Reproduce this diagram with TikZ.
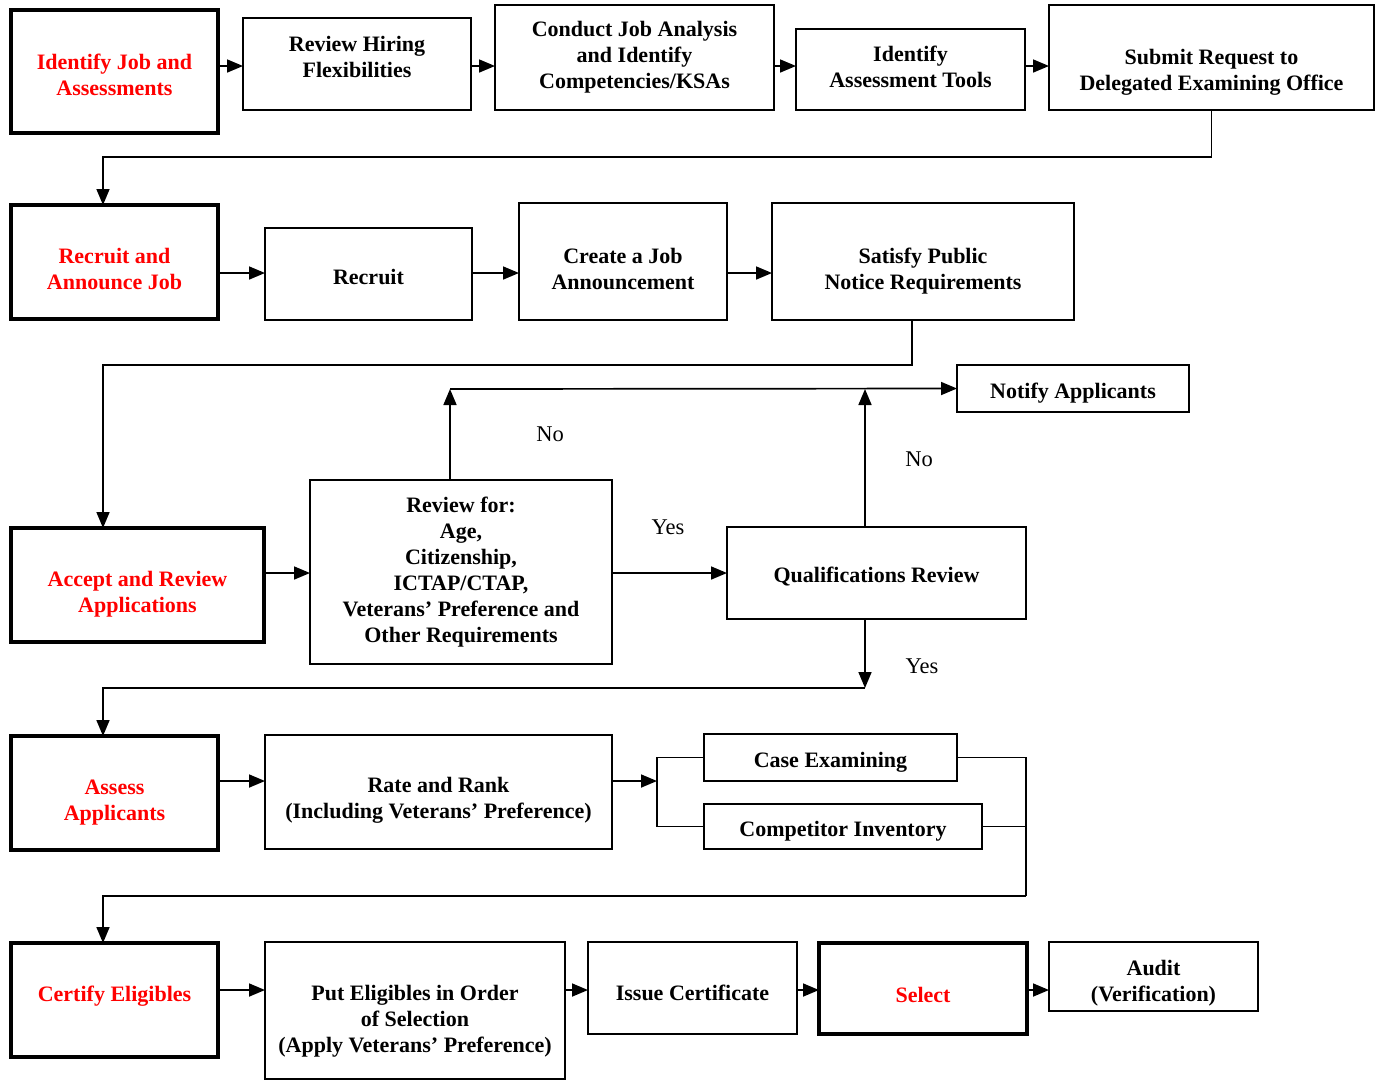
\documentclass[tikz,border=0pt]{standalone}
\usepackage{fontspec}
\setmainfont{Liberation Serif}
\usetikzlibrary{arrows.meta}

\tikzset{
	kasten/.style={draw, line width=1.7pt, align=center, inner sep=0pt,
	outer sep=0pt, font=\bfseries\fontsize{22}{26}\selectfont},
	haupt/.style={kasten, line width=3.8pt, text=red},
	pfeil/.style={line width=1.7pt, -{Triangle[length=16pt,width=13pt]}},
	linie/.style={line width=1.7pt},
	antwort/.style={font=\fontsize{22.5}{26}\selectfont}
}

\begin{document}
\begin{tikzpicture}[x=1pt, y=-1pt]
	\useasboundingbox (0,0) rectangle (1380,1080);

	% Hilfszeilen fuer die Pfeile
	\coordinate (r1) at (0,66);
	\coordinate (r2) at (0,273);
	\coordinate (r3) at (0,573);
	\coordinate (r4) at (0,781);
	\coordinate (r5) at (0,990);

	% Zeile 1
	\node[haupt, minimum width=207pt, minimum height=123pt] (ident) at (114.5,71.5) {Identify Job and\\Assessments\\[-32pt]};
	\node[kasten, minimum width=228pt, minimum height=92pt] (flex) at (357,64) {Review Hiring\\Flexibilities\\[-12pt]};
	\node[kasten, minimum width=279pt, minimum height=105pt] (analyse) at (634.5,57.5) {Conduct Job Analysis\\and Identify\\Competencies/KSAs\\[-20pt]};
	\node[kasten, minimum width=229pt, minimum height=81pt] (tools) at (910.5,69.5) {Identify\\Assessment Tools\\[-20pt]};
	\node[kasten, minimum width=325pt, minimum height=105pt] (antrag) at (1211.5,57.5) {Submit Request to\\Delegated Examining Office\\[-50pt]};
	\foreach \a/\b in {ident/flex, flex/analyse, analyse/tools, tools/antrag}
		\draw[pfeil] (\a.east |- r1) -- (\b.west |- r1);

	% Zeile 2
	\node[haupt, minimum width=207pt, minimum height=114pt] (werben) at (114.5,262) {Recruit and\\Announce Job\\[-40pt]};
	\node[kasten, minimum width=207pt, minimum height=92pt] (recruit) at (368.5,274) {Recruit\\[-32pt]};
	\node[kasten, minimum width=208pt, minimum height=117pt] (ausschr) at (623,261.5) {Create a Job\\Announcement\\[-40pt]};
	\node[kasten, minimum width=302pt, minimum height=117pt] (public) at (923,261.5) {Satisfy Public\\Notice Requirements\\[-40pt]};
	\foreach \a/\b in {werben/recruit, recruit/ausschr, ausschr/public}
		\draw[pfeil] (\a.east |- r2) -- (\b.west |- r2);

	\coordinate (k1) at (103,157);
	\draw[pfeil] (antrag.south) |- (k1) -- (k1 |- werben.north);

	% Zeile 3
	\node[haupt, minimum width=253pt, minimum height=114pt] (annahme) at (137.5,585) {Accept and Review\\Applications\\[-40pt]};
	\node[kasten, minimum width=302pt, minimum height=184pt] (pruefung) at (461,572) {Review for:\\Age,\\Citizenship,\\ICTAP/CTAP,\\Veterans’ Preference and\\Other Requirements\\[-22pt]};
	\node[kasten, minimum width=299pt, minimum height=92pt] (quali) at (876.5,573) {Qualifications Review\\[-30pt]};
	\node[kasten, minimum width=232pt, minimum height=47pt] (notify) at (1073,388.5) {Notify Applicants\\[-30pt]};
	\draw[pfeil] (annahme.east |- r3) -- (pruefung.west |- r3);
	\draw[pfeil] (pruefung.east |- r3) -- (quali.west |- r3);

	\coordinate (k2) at (912,365);
	\coordinate (k3) at (103,365);
	\draw[pfeil] (k2 |- public.south) -- (k2) -- (k3) -- (k3 |- annahme.north);

	\coordinate (k4) at (450,389);
	\coordinate (k5) at (865,389);
	\draw[pfeil] (k4 |- pruefung.north) -- (k4);
	\draw[pfeil] (k4) -- (notify.west);
	\draw[pfeil] (k5 |- quali.north) -- (k5);

	\node[antwort] (nein1) at (550,434) {No};
	\node[antwort] (nein2) at (919,459) {No};
	\node[antwort] (ja1) at (668,527) {Yes};
	\node[antwort] (ja2) at (922,666) {Yes};

	% Zeile 4
	\node[haupt, minimum width=207pt, minimum height=114pt] (bewert) at (114.5,793) {Assess\\Applicants\\[-40pt]};
	\node[kasten, minimum width=347pt, minimum height=114pt] (rang) at (438.5,792) {Rate and Rank\\(Including Veterans’ Preference)\\[-38pt]};
	\node[kasten, minimum width=253pt, minimum height=47pt] (case) at (830.5,757.5) {Case Examining\\[-30pt]};
	\node[kasten, minimum width=278pt, minimum height=45pt] (inventar) at (843,826.5) {Competitor Inventory\\[-30pt]};
	\draw[pfeil] (bewert.east |- r4) -- (rang.west |- r4);

	\coordinate (k6) at (865,688);
	\coordinate (k7) at (103,688);
	\draw[pfeil] (k6 |- quali.south) -- (k6);
	\draw[pfeil] (k6) -- (k7) -- (k7 |- bewert.north);

	\coordinate (k8) at (657,781);
	\draw[pfeil] (rang.east |- r4) -- (k8);
	\draw[linie] (case.west) -| (k8) |- (inventar.west);

	% Zeile 5
	\node[haupt, minimum width=207pt, minimum height=114pt] (zert) at (114.5,1000) {Certify Eligibles\\[-14pt]};
	\node[kasten, minimum width=300pt, minimum height=137pt] (ordnung) at (415,1010.5) {Put Eligibles in Order\\of Selection\\(Apply Veterans’ Preference)\\[-42pt]};
	\node[kasten, minimum width=209pt, minimum height=92pt] (zertifikat) at (692.5,988) {Issue Certificate\\[-36pt]};
	\node[haupt, minimum width=208pt, minimum height=91pt] (auswahl) at (923,988.5) {Select\\[-38pt]};
	\node[kasten, minimum width=209pt, minimum height=69pt] (audit) at (1153.5,976.5) {Audit\\(Verification)\\[-34pt]};
	\foreach \a/\b in {zert/ordnung, ordnung/zertifikat, zertifikat/auswahl, auswahl/audit}
		\draw[pfeil] (\a.east |- r5) -- (\b.west |- r5);

	\coordinate (k9) at (1026,896);
	\coordinate (k10) at (103,896);
	\draw[linie] (case.east) -| (k9);
	\draw[linie] (inventar.east) -- (inventar.east -| k9);
	\draw[pfeil] (k9) -- (k10) -- (k10 |- zert.north);
\end{tikzpicture}
\end{document}
